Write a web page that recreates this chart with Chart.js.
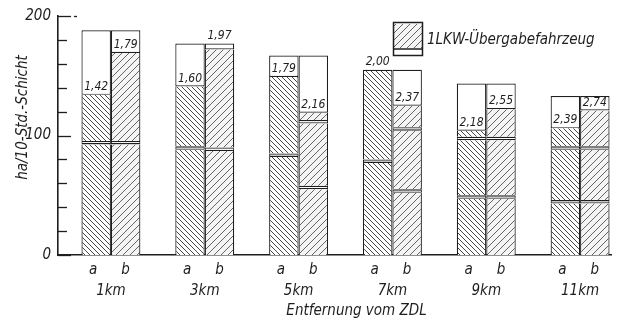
<!DOCTYPE html>
<html><head><meta charset="utf-8">
<script src="https://cdn.jsdelivr.net/npm/chart.js@4"></script>
<style>html,body{margin:0;padding:0;background:#fff}#wrap{width:627px;height:321px}</style>
</head><body><div id="wrap"><canvas id="c" width="627" height="321"></canvas></div>
<script>
// ---- data ----
const distances = ['1km','3km','5km','7km','9km','11km'];
const km = [1,3,5,7,9,11];
const yTickLabels = [0,100,200];
// bar "a" segments (bottom to top)
const aLower  = [92.5, 88, 82, 77, 47, 43];
const aBand1  = [3, 3, 3, 3, 3, 3];
const aMiddle = [38.5, 50, 64, 75, 46, 42];
const aBand2  = [0, 0, 0, 0, 3, 3];
const aUpper  = [0, 0, 0, 0, 5, 15];
const aWhite  = [54, 36, 18, 0, 39.5, 27];
// bar "b" segments (bottom to top)
const bLower  = [92.5, 87, 55, 52, 47, 43];
const bBand1  = [3, 3, 3, 3, 3, 3];
const bMiddle = [73.5, 82, 52, 49, 46, 42];
const bBand2  = [0, 0, 3, 3, 3, 3];
const bUpper  = [0, 0, 6, 18, 23, 30];
const bWhite  = [19, 5, 48, 30, 21.5, 12];
const labelsA = ['1,42','1,60','1,79','2,00','2,18','2,39'];
const labelsB = ['1,79','1,97','2,16','2,37','2,55','2,74'];
const legendText = '1LKW-Übergabefahrzeug';
const yTitle = 'ha/10-Std.-Schicht';
const xTitle = 'Entfernung vom ZDL';

// ---- styles ----
const ink = '#1e1e1e';
const FAM = '"Liberation Sans Narrow", "DejaVu Sans Condensed", "Noto Sans", sans-serif';
function hatch(dir, s, color, lw, bg) {
  const c = document.createElement('canvas'); c.width = s; c.height = s;
  const g = c.getContext('2d');
  g.fillStyle = bg; g.fillRect(0, 0, s, s);
  g.strokeStyle = color; g.lineWidth = lw; g.beginPath();
  for (let k = -1; k <= 1; k++) {
    if (dir === 'back') { g.moveTo(k*s, 0); g.lineTo(k*s + s, s); }
    else { g.moveTo(k*s, s); g.lineTo(k*s + s, 0); }
  }
  g.stroke();
  return g.createPattern(c, 'repeat');
}
const patA = hatch('back', 5, '#333333', 0.9, '#ffffff');
const patB = hatch('fwd', 7, '#555555', 0.9, '#f4f4f4');

function ds(arr, stack, kind, pat, nextBand, nextWhite) {
  return {
    data: km.map((k, i) => ({x: k, y: arr[i]})),
    stack: stack,
    backgroundColor: kind === 'hatch' ? pat : '#ffffff',
    borderColor: ink,
    borderSkipped: false,
    inflateAmount: 0,
    borderWidth: (c) => {
      const i = c.dataIndex;
      if (kind === 'band') return {top: 1.4, bottom: 1.4, left: 1, right: 1};
      if (kind === 'white') return {top: 1.2, bottom: 1.2, left: 1.2, right: 1.2};
      const covered = (nextBand && nextBand[i] > 0) || (nextWhite && nextWhite[i] > 0);
      return {top: covered ? 0 : 1.2, bottom: 0, left: 1.2, right: 1.2};
    },
    categoryPercentage: 0.628,
    barPercentage: 1.0
  };
}
const datasets = [
  ds(aLower, 'a', 'hatch', patA, aBand1),
  ds(aBand1, 'a', 'band'),
  ds(aMiddle, 'a', 'hatch', patA, aBand2, aWhite),
  ds(aBand2, 'a', 'band'),
  ds(aUpper, 'a', 'hatch', patA, null, aWhite),
  ds(aWhite, 'a', 'white'),
  ds(bLower, 'b', 'hatch', patB, bBand1),
  ds(bBand1, 'b', 'band'),
  ds(bMiddle, 'b', 'hatch', patB, bBand2, bWhite),
  ds(bBand2, 'b', 'band'),
  ds(bUpper, 'b', 'hatch', patB, null, bWhite),
  ds(bWhite, 'b', 'white')
];

const overlay = {
  id: 'overlay',
  afterDraw(chart) {
    const {ctx, chartArea: ca, scales: {x, y}} = chart;
    ctx.save();
    ctx.fillStyle = ink; ctx.strokeStyle = ink;
    // inward y tick marks
    ctx.lineWidth = 1.3;
    for (let v = 0; v <= 200; v += 20) {
      const py = Math.round(y.getPixelForValue(v)) + 0.5;
      const len = (v % 100 === 0) ? 13 : 9;
      ctx.beginPath(); ctx.moveTo(ca.left, py); ctx.lineTo(ca.left + len, py); ctx.stroke();
    }
    // dashed continuation at the top tick
    const pTop = Math.round(y.getPixelForValue(200)) + 0.5;
    ctx.beginPath(); ctx.moveTo(ca.left + 16, pTop); ctx.lineTo(ca.left + 19, pTop); ctx.stroke();
    // value labels and a/b labels
    ctx.textAlign = 'center';
    [[5, labelsA, 'a', -3], [11, labelsB, 'b', 0]].forEach(([di, labs, letter, dx]) => {
      const meta = chart.getDatasetMeta(di);
      meta.data.forEach((el, i) => {
        const whitePx = el.base - el.y;
        const ly = whitePx < 12 ? el.y - 2 : el.base - 2;
        ctx.font = 'italic 12px ' + FAM;
        ctx.textBaseline = 'bottom';
        ctx.fillText(labs[i], el.x, ly);
        ctx.font = 'italic 15px ' + FAM;
        ctx.textBaseline = 'alphabetic';
        ctx.fillText(letter, el.x + dx, ca.bottom + 19);
      });
    });
    // x title
    ctx.font = 'italic 15px ' + FAM;
    ctx.textAlign = 'center'; ctx.textBaseline = 'alphabetic';
    ctx.fillText(xTitle, (x.getPixelForValue(km[0]) + x.getPixelForValue(km[km.length-1])) / 2 + 11, ca.bottom + 60);
    // y title
    ctx.save();
    ctx.translate(27, (ca.top + ca.bottom) / 2 - 18);
    ctx.rotate(-Math.PI / 2);
    ctx.textAlign = 'center'; ctx.textBaseline = 'alphabetic';
    ctx.fillText(yTitle, 0, 0);
    ctx.restore();
    // legend
    const lx = 393, ly = 22, lw = 29, lh = 33;
    ctx.fillStyle = patB; ctx.fillRect(lx, ly + 2, lw, lh - 9);
    ctx.strokeStyle = ink; ctx.lineWidth = 1.5;
    ctx.strokeRect(lx + 0.5, ly + 0.5, lw, lh);
    ctx.beginPath(); ctx.moveTo(lx, ly + lh - 6); ctx.lineTo(lx + lw, ly + lh - 6); ctx.stroke();
    ctx.fillStyle = ink;
    ctx.font = 'italic 15px ' + FAM;
    ctx.textAlign = 'left'; ctx.textBaseline = 'alphabetic';
    ctx.fillText(legendText, lx + lw + 5, ly + 22);
    ctx.restore();
  }
};

new Chart(document.getElementById('c'), {
  type: 'bar',
  data: { datasets },
  options: {
    responsive: false,
    animation: false,
    devicePixelRatio: 1,
    layout: { padding: { left: 0, top: 14, right: 15, bottom: 0 } },
    plugins: { legend: { display: false }, tooltip: { enabled: false } },
    scales: {
      x: {
        type: 'linear', offset: false, stacked: true,
        min: -0.128, max: 11.66,
        afterBuildTicks: (s) => { s.ticks = km.map(v => ({value: v})); },
        afterFit: (s) => { s.height = 66; },
        grid: { display: false, drawTicks: false },
        border: { display: true, color: ink, width: 1.6 },
        ticks: {
          autoSkip: false, maxRotation: 0, padding: 27, color: ink,
          font: { family: FAM, style: 'italic', size: 15 },
          callback: (v) => { const i = km.indexOf(v); return i >= 0 ? distances[i] : ''; }
        }
      },
      y: {
        stacked: true, min: 0, max: 200,
        afterFit: (s) => { s.width = 58; },
        grid: { display: false, drawTicks: false },
        border: { display: true, color: ink, width: 1.6 },
        ticks: {
          stepSize: 20, padding: 7, color: ink,
          font: { family: FAM, style: 'italic', size: 15 },
          callback: (v) => yTickLabels.includes(v) ? String(v) : ''
        }
      }
    }
  },
  plugins: [overlay]
});
</script>
</body></html>
